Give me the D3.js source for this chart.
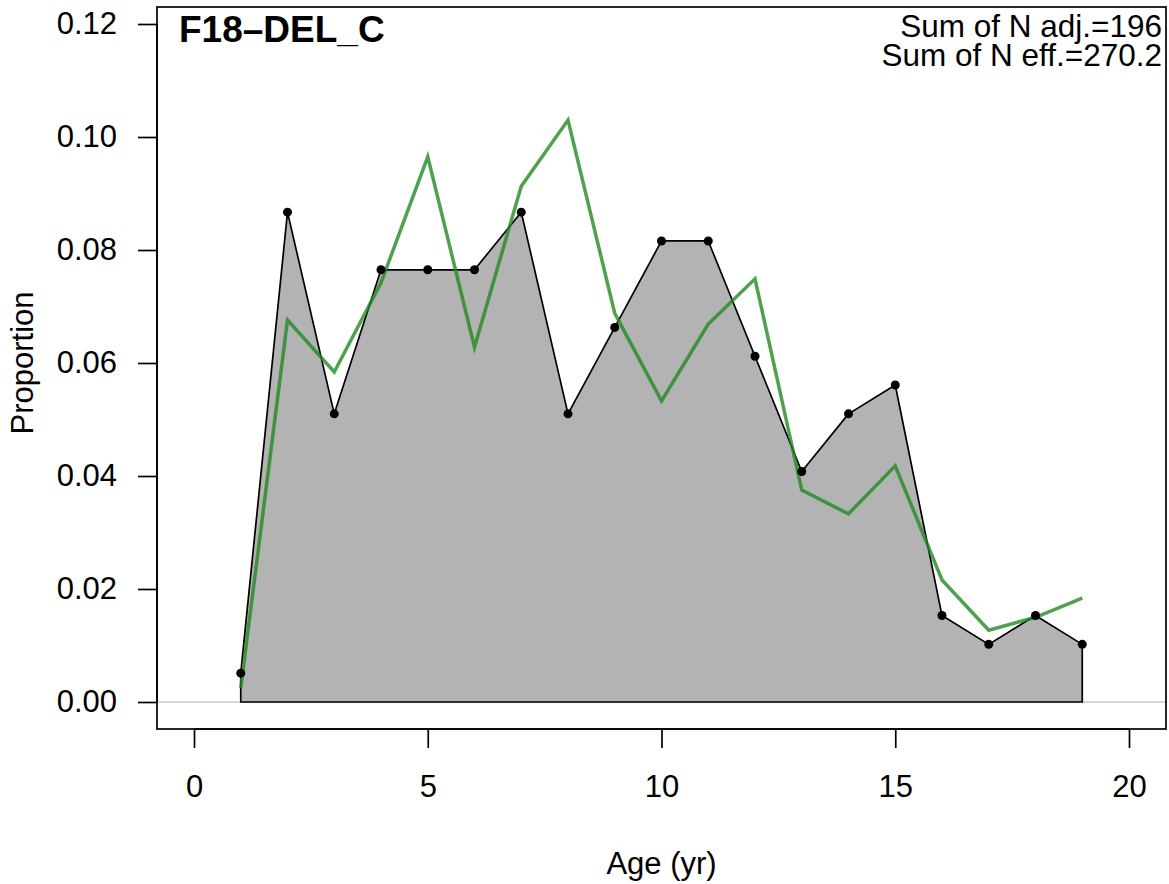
<!DOCTYPE html>
<html>
<head>
<meta charset="utf-8">
<script src="https://cdn.jsdelivr.net/npm/d3@7"></script>
<style>
  body { margin: 0; background: #fff; }
  text { font-family: "Liberation Sans", Arial, sans-serif; }
</style>
</head>
<body>
<svg id="graph"></svg>
<script>
var ages = [1,2,3,4,5,6,7,8,9,10,11,12,13,14,15,16,17,18,19];
var observed = [0.0051,0.0867,0.0510,0.0765,0.0765,0.0765,0.0867,0.0510,0.0663,0.0816,
                0.0816,0.0612,0.0408,0.0510,0.0561,0.0153,0.0102,0.0153,0.0102];
var expected = [0.0025,0.0676,0.0584,0.0742,0.0965,0.0628,0.0913,0.1030,0.0688,0.0533,
                0.0669,0.0749,0.0375,0.0333,0.0418,0.0216,0.0127,0.0150,0.0184];
var xTicks = [0,5,10,15,20];
var yTicks = [0,0.02,0.04,0.06,0.08,0.10,0.12];
var title = "F18\u2013DEL_C";
var note1 = "Sum of N adj.=196";
var note2 = "Sum of N eff.=270.2";

var svg = d3.select("#graph")
    .attr("width",1169)
    .attr("height",884);

var box = {left: 157, right: 1166, top: 7, bottom: 729};
var fs = 31;

var x = d3.scaleLinear().domain([0,20]).range([194,1129]),
    y = d3.scaleLinear().domain([0,0.12]).range([702,24]);

var data = ages.map(function(a,i){ return {age: a, obs: observed[i], exp: expected[i]}; });

// zero line
svg.append("line")
    .attr("x1", box.left).attr("x2", box.right)
    .attr("y1", y(0)).attr("y2", y(0))
    .attr("stroke", "#c8c8c8").attr("stroke-width", 1.5);

// observed polygon
var area = d3.area()
    .x(function(d){ return x(d.age); })
    .y0(y(0))
    .y1(function(d){ return y(d.obs); });

svg.append("path")
    .datum(data)
    .attr("d", function(d){ return area(d) + "Z"; })
    .attr("fill", "#b3b3b3")
    .attr("stroke", "#000")
    .attr("stroke-width", 1.7)
    .attr("stroke-linejoin", "round");

// expected line
svg.append("path")
    .datum(data)
    .attr("d", d3.line().x(function(d){ return x(d.age); }).y(function(d){ return y(d.exp); }))
    .attr("fill", "none")
    .attr("stroke", "rgb(34,139,34)")
    .attr("stroke-opacity", 0.8)
    .attr("stroke-width", 3.5);

svg.selectAll(".pt")
  .data(data)
  .enter().append("circle")
    .attr("class", "pt")
    .attr("cx", function(d){ return x(d.age); })
    .attr("cy", function(d){ return y(d.obs); })
    .attr("r", 4.5)
    .attr("fill", "#000");

// box
svg.append("rect")
    .attr("x", box.left).attr("y", box.top)
    .attr("width", box.right - box.left).attr("height", box.bottom - box.top)
    .attr("fill", "none").attr("stroke", "#000").attr("stroke-width", 1.7);

// x axis
var xaxis = svg.append("g")
    .attr("transform", "translate(0," + box.bottom + ")")
    .call(d3.axisBottom(x).tickValues(xTicks).tickSize(19).tickPadding(27).tickFormat(d3.format("d")));
xaxis.select(".domain").attr("d", "M" + x(0) + ",0H" + x(20)).attr("stroke-width", 1.7);
xaxis.selectAll(".tick line").attr("stroke-width", 1.7);
xaxis.selectAll("text").attr("font-size", fs).attr("fill", "#000")
    .attr("font-family", "Liberation Sans, Arial, sans-serif");

// y axis
var yaxis = svg.append("g")
    .attr("transform", "translate(" + box.left + ",0)")
    .call(d3.axisLeft(y).tickValues(yTicks).tickSize(19).tickPadding(21).tickFormat(d3.format(".2f")));
yaxis.select(".domain").attr("d", "M0," + y(0) + "V" + y(0.12)).attr("stroke-width", 1.7);
yaxis.selectAll(".tick line").attr("stroke-width", 1.7);
yaxis.selectAll("text").attr("font-size", fs).attr("fill", "#000")
    .attr("font-family", "Liberation Sans, Arial, sans-serif");

// labels
svg.append("text")
    .attr("x", x(10)).attr("y", 874)
    .attr("text-anchor", "middle").attr("font-size", fs)
    .text("Age (yr)");

svg.append("text")
    .attr("transform", "translate(33," + y(0.06) + ") rotate(-90)")
    .attr("text-anchor", "middle").attr("font-size", fs)
    .text("Proportion");

svg.append("text")
    .attr("x", 179).attr("y", 42)
    .attr("font-size", 37).attr("font-weight", "bold")
    .text(title);

svg.append("text")
    .attr("x", 1162).attr("y", 37)
    .attr("text-anchor", "end").attr("font-size", 31.5)
    .text(note1);
svg.append("text")
    .attr("x", 1162).attr("y", 66)
    .attr("text-anchor", "end").attr("font-size", 31.5)
    .text(note2);
</script>
</body>
</html>
